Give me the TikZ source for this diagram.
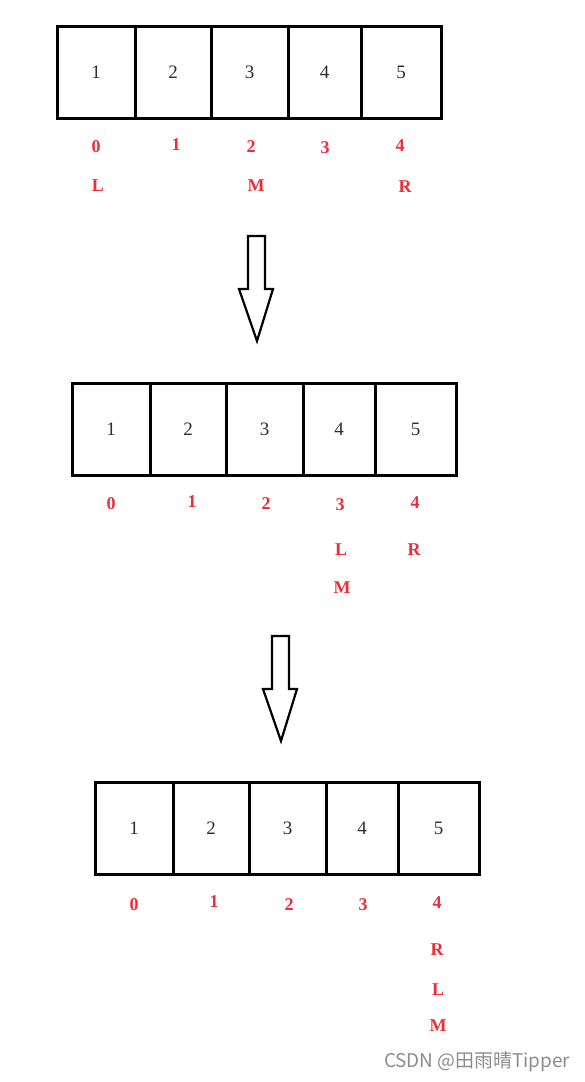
\documentclass[tikz,border=0pt]{standalone}
\usepackage{fontspec}
\usepackage{graphicx}
\newfontfamily\cjk{Noto Sans CJK SC}
\newfontfamily\digitfont{Liberation Serif}
\definecolor{lblred}{RGB}{240,45,55}
\definecolor{wmgray}{RGB}{140,140,140}
\definecolor{digitgray}{RGB}{45,45,45}
\begin{document}
\begin{tikzpicture}[x=1pt,y=-1pt,
  cell/.style={draw=black,line width=3pt,minimum height=92pt,inner sep=0pt,font=\digitfont\fontsize{19}{21}\selectfont,text=digitgray},
  idx/.style={text=lblred,font=\digitfont\fontsize{18}{20}\selectfont\bfseries,inner sep=0pt},
  bigarrow/.style={draw=black,line width=2.2pt,fill=white,line join=miter}]
\useasboundingbox (0,0) rectangle (585,1082);
% ---------- array 1 ----------
\node[cell,minimum width=78pt] (a1) at (96,72) {1};
\node[cell,minimum width=76pt] (a2) at (173,72) {2};
\node[cell,minimum width=77pt] (a3) at (249.5,72) {3};
\node[cell,minimum width=73pt] (a4) at (324.5,72) {4};
\node[cell,minimum width=80pt] (a5) at (401,72) {5};
\node[idx] (ai0) at (96,147) {0};
\node[idx] (ai1) at (176,145) {1};
\node[idx] (ai2) at (251,147) {2};
\node[idx] (ai3) at (325,148) {3};
\node[idx] (ai4) at (400,146) {4};
\node[idx] (aL) at (98,186) {L};
\node[idx] (aM) at (256,186) {M};
\node[idx] (aR) at (405,187) {R};
% ---------- arrow 1 ----------
\draw[bigarrow] (248,236) -- (265,236) -- (265,289) -- (273,289) -- (257,341) -- (239,289) -- (248,289) -- cycle;
% ---------- array 2 ----------
\node[cell,minimum width=78pt] (b1) at (111,429) {1};
\node[cell,minimum width=76pt] (b2) at (188,429) {2};
\node[cell,minimum width=77pt] (b3) at (264.5,429) {3};
\node[cell,minimum width=72pt] (b4) at (339,429) {4};
\node[cell,minimum width=81pt] (b5) at (415.5,429) {5};
\node[idx] (bi0) at (111,504) {0};
\node[idx] (bi1) at (192,502) {1};
\node[idx] (bi2) at (266,504) {2};
\node[idx] (bi3) at (340,505) {3};
\node[idx] (bi4) at (415,503) {4};
\node[idx] (bL) at (341,550) {L};
\node[idx] (bR) at (414,550) {R};
\node[idx] (bM) at (342,588) {M};
% ---------- arrow 2 ----------
\draw[bigarrow] (272,636) -- (289,636) -- (289,689) -- (297,689) -- (281,741) -- (263,689) -- (272,689) -- cycle;
% ---------- array 3 ----------
\node[cell,minimum width=78pt] (c1) at (134,828.5) {1};
\node[cell,minimum width=76pt] (c2) at (211,828.5) {2};
\node[cell,minimum width=77pt] (c3) at (287.5,828.5) {3};
\node[cell,minimum width=72pt] (c4) at (362,828.5) {4};
\node[cell,minimum width=81pt] (c5) at (438.5,828.5) {5};
\node[idx] (ci0) at (134,905) {0};
\node[idx] (ci1) at (214,902) {1};
\node[idx] (ci2) at (289,905) {2};
\node[idx] (ci3) at (363,905) {3};
\node[idx] (ci4) at (437,903) {4};
\node[idx] (cR) at (437,950) {R};
\node[idx] (cL) at (438,990) {L};
\node[idx] (cM) at (438,1026) {M};
% ---------- watermark ----------
\node[text=wmgray,inner sep=0pt] (wm) at (477,1062) {\resizebox{186pt}{!}{\cjk CSDN @田雨晴Tipper}};
\end{tikzpicture}
\end{document}
